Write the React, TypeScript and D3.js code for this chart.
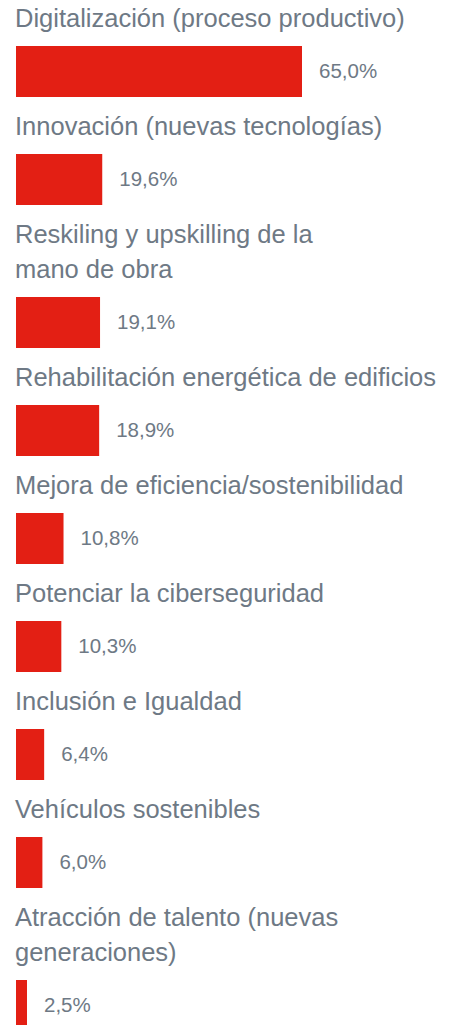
import React from "react";
import * as d3 from "d3";

const categories: string[][] = [
  ["Digitalización (proceso productivo)"],
  ["Innovación (nuevas tecnologías)"],
  ["Reskiling y upskilling de la", "mano de obra"],
  ["Rehabilitación energética de edificios"],
  ["Mejora de eficiencia/sostenibilidad"],
  ["Potenciar la ciberseguridad"],
  ["Inclusión e Igualdad"],
  ["Vehículos sostenibles"],
  ["Atracción de talento (nuevas", "generaciones)"],
];
const values: number[] = [65.0, 19.6, 19.1, 18.9, 10.8, 10.3, 6.4, 6.0, 2.5];

const W = 452;
const H = 1025;
const LEFT = 16;
const BAR_H = 51;
const PITCH = 108;
const EXTRA_LINE = 35;
const FIRST_TOP = 46;
const TITLE_GAP = 19;
const LABEL_GAP = 17;
const RED = "#e31f14";
const GRAY = "#6e7985";
const FONT = "'Liberation Sans', Arial, Helvetica, sans-serif";

export default function App() {
  const x = d3.scaleLinear().domain([0, 65]).range([LEFT, LEFT + 286]);
  const fmt = (v: number) => d3.format(".1f")(v).replace(".", ",") + "%";

  let extra = 0;
  const rows = categories.map((lines, i) => {
    extra += lines.length - 1;
    const top = FIRST_TOP + PITCH * i + EXTRA_LINE * extra;
    return { lines, value: values[i], top };
  });

  return (
    <svg
      width={W}
      height={H}
      style={{ position: "absolute", left: 0, top: 0, background: "#fff" }}
      fontFamily={FONT}
    >
      {rows.map((r, i) => (
        <g key={i}>
          {r.lines.map((ln, j) => (
            <text
              key={j}
              x={LEFT - 1}
              y={r.top - TITLE_GAP - EXTRA_LINE * (r.lines.length - 1 - j)}
              fontSize={25.5}
              fill={GRAY}
            >
              {ln}
            </text>
          ))}
          <rect
            x={x(0)}
            y={r.top}
            width={x(r.value) - x(0)}
            height={BAR_H}
            fill={RED}
          />
          <text
            x={x(r.value) + LABEL_GAP}
            y={r.top + 32}
            fontSize={20.5}
            fill={GRAY}
          >
            {fmt(r.value)}
          </text>
        </g>
      ))}
    </svg>
  );
}
